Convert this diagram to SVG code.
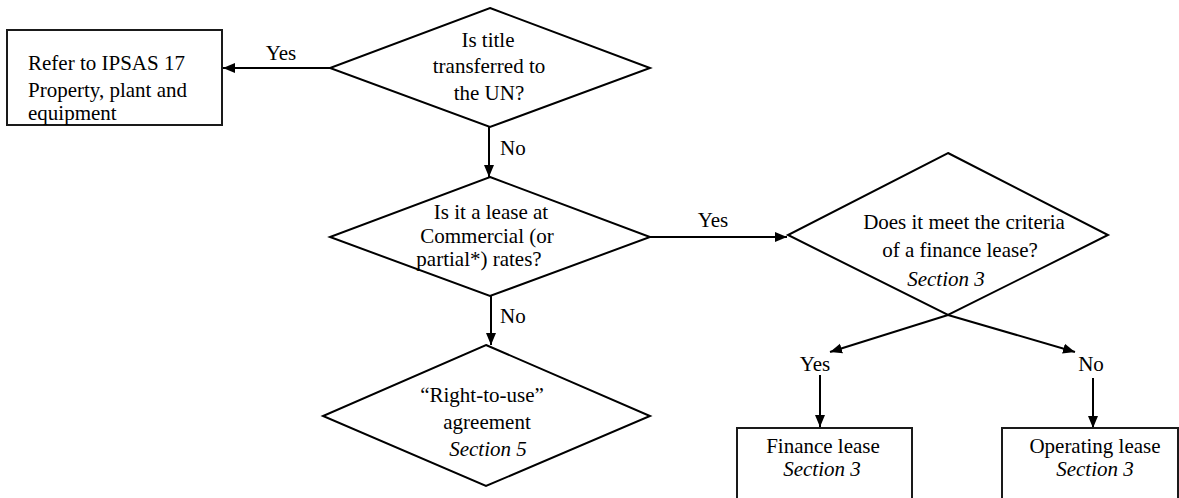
<svg xmlns="http://www.w3.org/2000/svg" width="1179" height="498" viewBox="0 0 1179 498">
  <style>
    .shape { fill: #ffffff; stroke: #000000; stroke-width: 2; }
    .box { fill: #ffffff; stroke: #1a1a1a; stroke-width: 2; }
    .link { fill: none; stroke: #000000; stroke-width: 2; }
    .mid { text-anchor: middle; }
    .it { font-style: italic; }
  </style>
  <defs>
    <marker id="arrow" markerUnits="userSpaceOnUse" markerWidth="14" markerHeight="12" refX="12" refY="6" orient="auto">
      <path d="M0,1 L12,6 L0,11 Z" fill="#000000"/>
    </marker>
  </defs>

  <g font-family="'Liberation Serif', 'Times New Roman', serif" font-size="21" fill="#000000">
  <!-- connectors -->
  <g id="connectors">
    <line class="link" x1="330" y1="68" x2="223" y2="68" marker-end="url(#arrow)"/>
    <text x="281" y="60" class="mid">Yes</text>

    <line class="link" x1="489" y1="127" x2="489" y2="177" marker-end="url(#arrow)"/>
    <text x="500" y="155">No</text>

    <line class="link" x1="650" y1="237" x2="787" y2="237" marker-end="url(#arrow)"/>
    <text x="713" y="227" class="mid">Yes</text>

    <line class="link" x1="491" y1="296" x2="491" y2="345" marker-end="url(#arrow)"/>
    <text x="500" y="323">No</text>

    <line class="link" x1="948" y1="315" x2="830" y2="352" marker-end="url(#arrow)"/>
    <line class="link" x1="948" y1="315" x2="1075" y2="352" marker-end="url(#arrow)"/>
    <text x="815" y="371" class="mid">Yes</text>
    <text x="1091" y="371" class="mid">No</text>

    <line class="link" x1="820" y1="375" x2="820" y2="427" marker-end="url(#arrow)"/>
    <line class="link" x1="1093" y1="378" x2="1093" y2="428" marker-end="url(#arrow)"/>
  </g>

  <!-- outcome: property, plant and equipment -->
  <g id="ipsas17">
    <rect class="box" x="7" y="30" width="215" height="95"/>
    <text x="28" y="70">Refer to IPSAS 17</text>
    <text x="28" y="97">Property, plant and</text>
    <text x="28" y="120">equipment</text>
  </g>

  <!-- decision: title transfer -->
  <g id="title-transfer">
    <polygon class="shape" points="490,8 650,68 490,127 330,68"/>
    <text x="488" y="47" class="mid">Is title</text>
    <text x="489" y="73" class="mid">transferred to</text>
    <text x="489" y="100" class="mid">the UN?</text>
  </g>

  <!-- decision: commercial rates -->
  <g id="commercial-rates">
    <polygon class="shape" points="490,177 650,237 490,296 330,237"/>
    <text x="491" y="219" class="mid">Is it a lease at</text>
    <text x="487" y="243" class="mid">Commercial (or</text>
    <text x="479" y="266" class="mid">partial*) rates?</text>
  </g>

  <!-- decision: finance lease criteria -->
  <g id="finance-criteria">
    <polygon class="shape" points="948,153 1108,235 948,315 788,235"/>
    <text x="964" y="229" class="mid">Does it meet the criteria</text>
    <text x="960" y="257" class="mid">of a finance lease?</text>
    <text x="946" y="286" class="mid it">Section 3</text>
  </g>

  <!-- outcome: right-to-use -->
  <g id="right-to-use">
    <polygon class="shape" points="486,345 650,416 486,486 323,416"/>
    <text x="482" y="402" class="mid">“Right-to-use”</text>
    <text x="487" y="429" class="mid">agreement</text>
    <text x="488" y="456" class="mid it">Section 5</text>
  </g>

  <!-- outcome: finance lease -->
  <g id="finance-lease">
    <rect class="box" x="737" y="428" width="175" height="80"/>
    <text x="823" y="453" class="mid">Finance lease</text>
    <text x="822" y="476" class="mid it">Section 3</text>
  </g>

  <!-- outcome: operating lease -->
  <g id="operating-lease">
    <rect class="box" x="1002" y="428" width="176" height="80"/>
    <text x="1095" y="453" class="mid">Operating lease</text>
    <text x="1095" y="476" class="mid it">Section 3</text>
  </g>
  </g>
</svg>
